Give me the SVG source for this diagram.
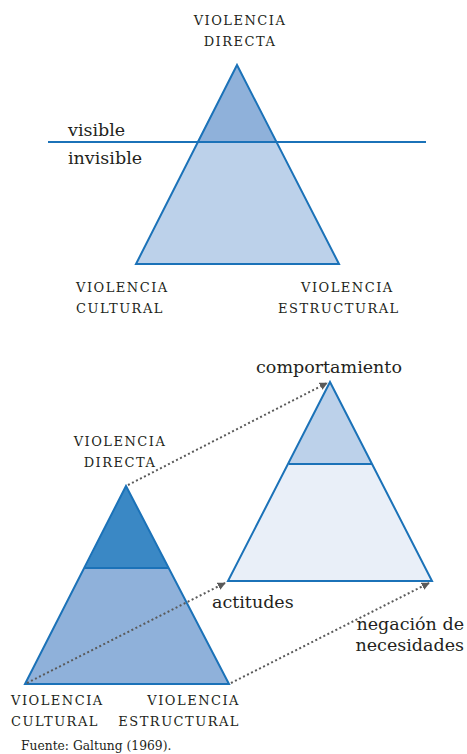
<svg xmlns="http://www.w3.org/2000/svg" width="467" height="754" viewBox="0 0 467 754">
<style>
.tri{stroke:#1b72b8;stroke-width:2;stroke-linejoin:miter}
.ln{stroke:#1b72b8;stroke-width:2;fill:none}
text{font-family:'DejaVu Serif',serif;fill:#231f20}
.sc{font-size:13px;letter-spacing:1.5px}
.lb{font-size:17.5px}
.ft{font-size:12.3px}
.dot{stroke:#5a5a5a;stroke-width:2;stroke-dasharray:2 2.5;fill:none}
</style>
<defs>
<marker id="ah" viewBox="0 0 10 10" refX="9" refY="5" markerWidth="4" markerHeight="4" orient="auto" markerUnits="strokeWidth">
<path d="M0,0 L10,5 L0,10 Z" fill="#5a5a5a"/>
</marker>
</defs>
<rect width="467" height="754" fill="#ffffff"/>

<g id="top-pyramid">
<polygon points="237,65 339,264 136,264" fill="#bcd1ea"/>
<polygon points="237,65 277,142 197,142" fill="#8fb1da"/>
<line class="ln" x1="48" y1="142" x2="426" y2="142"/>
<polygon class="tri" points="237,65 339,264 136,264" fill="none"/>
</g>
<g id="top-labels">
<text class="sc" x="240" y="25" text-anchor="middle">VIOLENCIA</text>
<text class="sc" x="240" y="46" text-anchor="middle">DIRECTA</text>
<text class="lb" x="68" y="136">visible</text>
<text class="lb" x="68" y="164">invisible</text>
<text class="sc" x="76" y="292">VIOLENCIA</text>
<text class="sc" x="76" y="313">CULTURAL</text>
<text class="sc" x="301" y="292">VIOLENCIA</text>
<text class="sc" x="278" y="313">ESTRUCTURAL</text>
</g>

<g id="left-pyramid">
<polygon points="126,486 229,684 25,684" fill="#8fb1da"/>
<polygon points="126,486 168,568 85,568" fill="#3a88c5"/>
<line class="ln" x1="85" y1="568" x2="168" y2="568"/>
<polygon class="tri" points="126,486 229,684 25,684" fill="none"/>
</g>

<g id="right-pyramid">
<polygon points="330,382 432,581 228,581" fill="#e9eff8"/>
<polygon points="330,382 372,464 289,464" fill="#bcd1ea"/>
<line class="ln" x1="289" y1="464" x2="372" y2="464"/>
<polygon class="tri" points="330,382 432,581 228,581" fill="none"/>
</g>

<g id="connectors">
<line class="dot" x1="128" y1="485" x2="327" y2="383" marker-end="url(#ah)"/>
<line class="dot" x1="27" y1="683" x2="225" y2="583" marker-end="url(#ah)"/>
<line class="dot" x1="231" y1="683" x2="429" y2="583" marker-end="url(#ah)"/>
</g>

<g id="bottom-labels">
<text class="lb" x="329" y="373" text-anchor="middle">comportamiento</text>
<text class="sc" x="120" y="446" text-anchor="middle">VIOLENCIA</text>
<text class="sc" x="120" y="467" text-anchor="middle">DIRECTA</text>
<text class="lb" x="212" y="608">actitudes</text>
<text class="lb" x="464" y="630" text-anchor="end">negación de</text>
<text class="lb" x="464" y="651" text-anchor="end">necesidades</text>
<text class="sc" x="11" y="705">VIOLENCIA</text>
<text class="sc" x="11" y="726">CULTURAL</text>
<text class="sc" x="240" y="705" text-anchor="end">VIOLENCIA</text>
<text class="sc" x="240" y="726" text-anchor="end">ESTRUCTURAL</text>
<text class="ft" x="21" y="750">Fuente: Galtung (1969).</text>
</g>
</svg>
